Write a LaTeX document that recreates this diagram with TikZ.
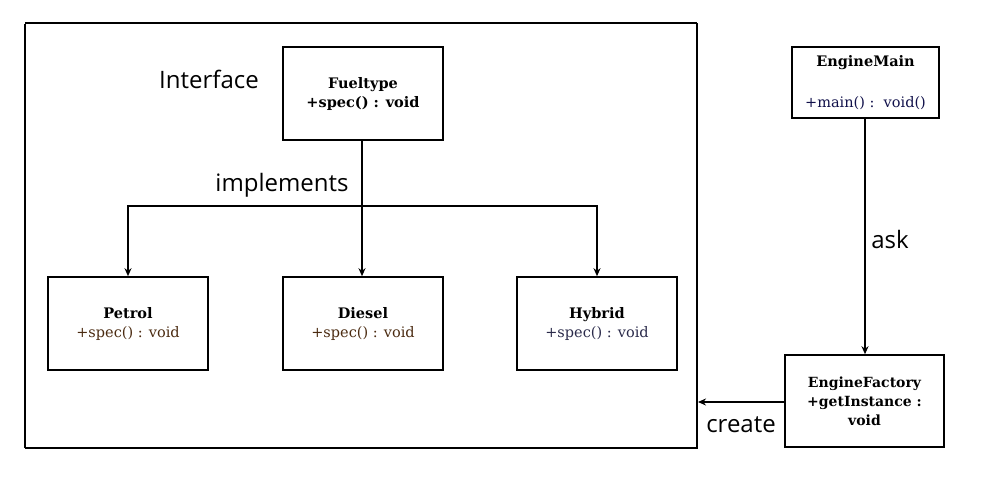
\documentclass[tikz,border=0pt]{standalone}
\usepackage{fontspec}
\setmainfont{DejaVu Serif}
\newfontfamily\labelfont{Open Sans}
\usetikzlibrary{arrows.meta}
\begin{document}
\begin{tikzpicture}[x=1pt,y=-1pt,
  cls/.style={draw=black,line width=1.6pt,minimum width=160pt,minimum height=93pt,align=center,font=\fontsize{14.5}{19}\selectfont,inner sep=2pt},
  lbl/.style={font=\labelfont\fontsize{24}{28}\selectfont,inner sep=0pt},
  conn/.style={line width=1.8pt,-{Stealth[length=8pt,width=7pt]}}]
\useasboundingbox (0,0) rectangle (981,492);
% frame
\draw[line width=1.6pt] (25,448) -- (25,24);
\draw[line width=2.2pt] (25,23) -- (697,23);
\draw[line width=1.6pt] (697,23) -- (697,448) -- (25,448);
% classes
\node[cls] (fuel) at (363,93.5) {\textbf{Fueltype}\\\textbf{+spec() : void}};
\node[cls] (petrol) at (128,323.5) {\textbf{Petrol}\\\textcolor[HTML]{4A2A10}{+spec() : void}};
\node[cls] (diesel) at (363,323.5) {\textbf{Diesel}\\\textcolor[HTML]{4A2A10}{+spec() : void}};
\node[cls] (hybrid) at (597,323.5) {\textbf{Hybrid}\\\textcolor[HTML]{2A2A4A}{+spec() : void}};
\node[cls,minimum width=147pt,minimum height=71pt,font=\fontsize{14.5}{17}\selectfont] (main) at (865.5,82.5) {\textbf{EngineMain}\\[24pt]\textcolor[HTML]{10104A}{+main() :\ \ void()}};
\node[cls,minimum width=159pt,minimum height=92pt,font=\bfseries\fontsize{14}{19}\selectfont] (fact) at (864.5,401) {EngineFactory\\+getInstance :\\void};
% labels
\node[lbl] (iface) at (209,79) {Interface};
\node[lbl] (impl) at (282,185) {implements};
\node[lbl] (ask) at (890,239) {ask};
\node[lbl] (create) at (741,425) {create};
% connectors
\coordinate (j) at (362,206);
\coordinate (askx) at (865,0);
\coordinate (frameR) at (698,402);
\draw[conn] (fuel.south -| j) -- (diesel.north -| j);
\draw[conn] (j) -| (petrol.north);
\draw[conn] (j) -| (hybrid.north);
\draw[conn] (main.south -| askx) -- (fact.north -| askx);
\draw[conn] (fact.west |- frameR) -- (frameR);
\end{tikzpicture}
\end{document}
